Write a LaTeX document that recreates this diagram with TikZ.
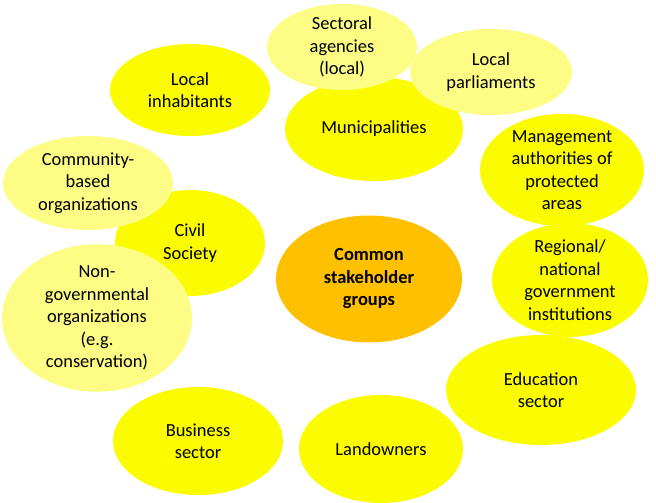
\documentclass[tikz,border=0pt]{standalone}
\usepackage{fontspec}
\setmainfont{Carlito}
\usetikzlibrary{shapes.geometric}
\definecolor{brightyellow}{HTML}{FCFC00}
\definecolor{paleyellow}{HTML}{FDFD85}
\definecolor{coreorange}{HTML}{FFC000}
\tikzstyle{group} = [ellipse, inner sep=0pt, align=center, font=\fontsize{10.5}{12.8}\selectfont]
\tikzstyle{main} = [group, fill=brightyellow]
\tikzstyle{sub} = [group, fill=paleyellow]
\tikzstyle{core} = [group, fill=coreorange, font=\fontsize{10.5}{12.8}\selectfont\bfseries]

\begin{document}
\begin{tikzpicture}[x=0.02cm, y=-0.02cm]
            \useasboundingbox (0,0) rectangle (656,503);
            \node [main, minimum width=3.2cm, minimum height=1.84cm] at (190,90) (inhabitants) {Local\\inhabitants};
            \node [main, minimum width=3.56cm, minimum height=2.08cm] at (374,129) (municipalities) {Municipalities};
            \node [sub, minimum width=3cm, minimum height=1.72cm] at (342,47) (agencies) {Sectoral\\agencies\\(local)};
            \node [sub, minimum width=3.24cm, minimum height=1.72cm] at (491,72) (parliaments) {Local\\parliaments};
            \node [main, minimum width=3.28cm, minimum height=2.2cm] at (562,170) (authorities) {Management\\authorities of\\protected\\areas};
            \node [main, minimum width=3cm, minimum height=2.12cm] at (190,243) (civil) {Civil\\Society};
            \node [sub, minimum width=3.4cm, minimum height=1.88cm] at (88,183) (community) {Community-\\based\\organizations};
            \node [sub, minimum width=3.8cm, minimum height=2.72cm] at (97,318) (ngo) {Non-\\governmental\\organizations\\(e.g.\\conservation)};
            \node [core, minimum width=3.72cm, minimum height=2.54cm] at (369,279) (core) {Common\\stakeholder\\groups};
            \node [main, minimum width=3.12cm, minimum height=2.12cm] at (570,280) (government) {Regional/\\national\\government\\institutions};
            \node [main, minimum width=3.8cm, minimum height=2.2cm] at (541,390) (education) {Education\\sector};
            \node [main, minimum width=3.4cm, minimum height=2.16cm] at (198,441) (business) {Business\\sector};
            \node [main, minimum width=3.28cm, minimum height=2.16cm] at (381,449) (landowners) {Landowners};
            \end{tikzpicture}
\end{document}
